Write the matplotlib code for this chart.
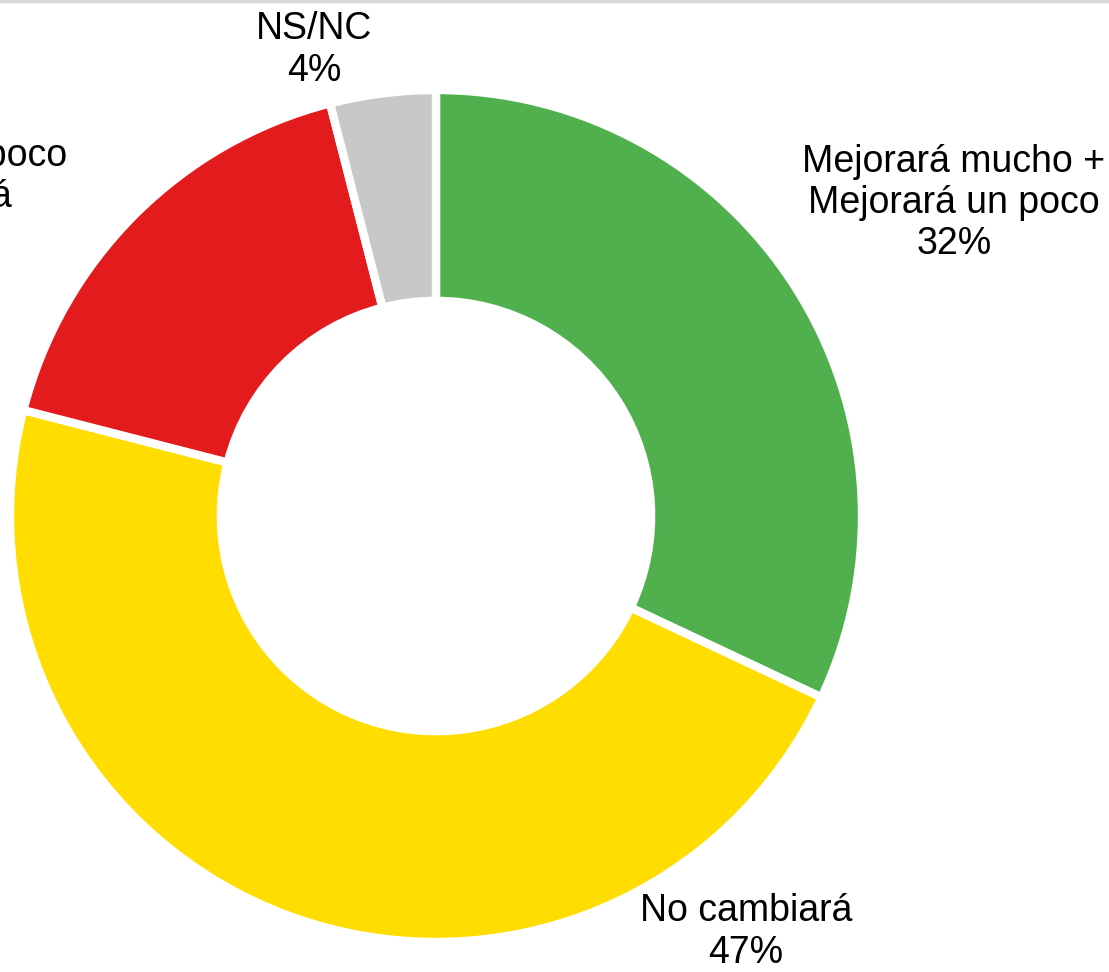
import matplotlib.pyplot as plt
from matplotlib.lines import Line2D

categorias = ["Mejorará mucho +\nMejorará un poco", "No cambiará",
              "Empeorará un poco\n+ Empeorará", "NS/NC"]
valores = [32, 47, 17, 4]
colores = ["#50B04E", "#FFDD00", "#E31B1C", "#C8C8C8"]

plt.rcParams['font.family'] = ['Liberation Sans', 'DejaVu Sans']

W, H = 1109, 972
fig = plt.figure(figsize=(W / 100, H / 100), dpi=100)
cx, cy, r = 436, 516, 426
ax = fig.add_axes([(cx - r) / W, (H - cy - r) / H, 2 * r / W, 2 * r / H])

ax.pie(valores, colors=colores, startangle=90, counterclock=False, radius=1,
       wedgeprops=dict(width=0.495, edgecolor="white", linewidth=6))
ax.set_xlim(-1, 1)
ax.set_ylim(-1, 1)
ax.set_aspect("equal")
ax.axis("off")

# posiciones de etiquetas en pixeles de la imagen
pos_etiquetas = [(954, 203), (746, 932), (-97, 197), (314, 50)]
for cat, val, (px, py) in zip(categorias, valores, pos_etiquetas):
    ax.text((px - cx) / r, (cy - py) / r, f"{cat}\n{val}%", ha="center", va="center",
            fontsize=27, linespacing=1.18, clip_on=False)

fig.add_artist(Line2D([0, 1], [1 - 1.5 / H, 1 - 1.5 / H], color="#D9D9D9", linewidth=2.5))

fig.savefig("out.png", dpi=100)
